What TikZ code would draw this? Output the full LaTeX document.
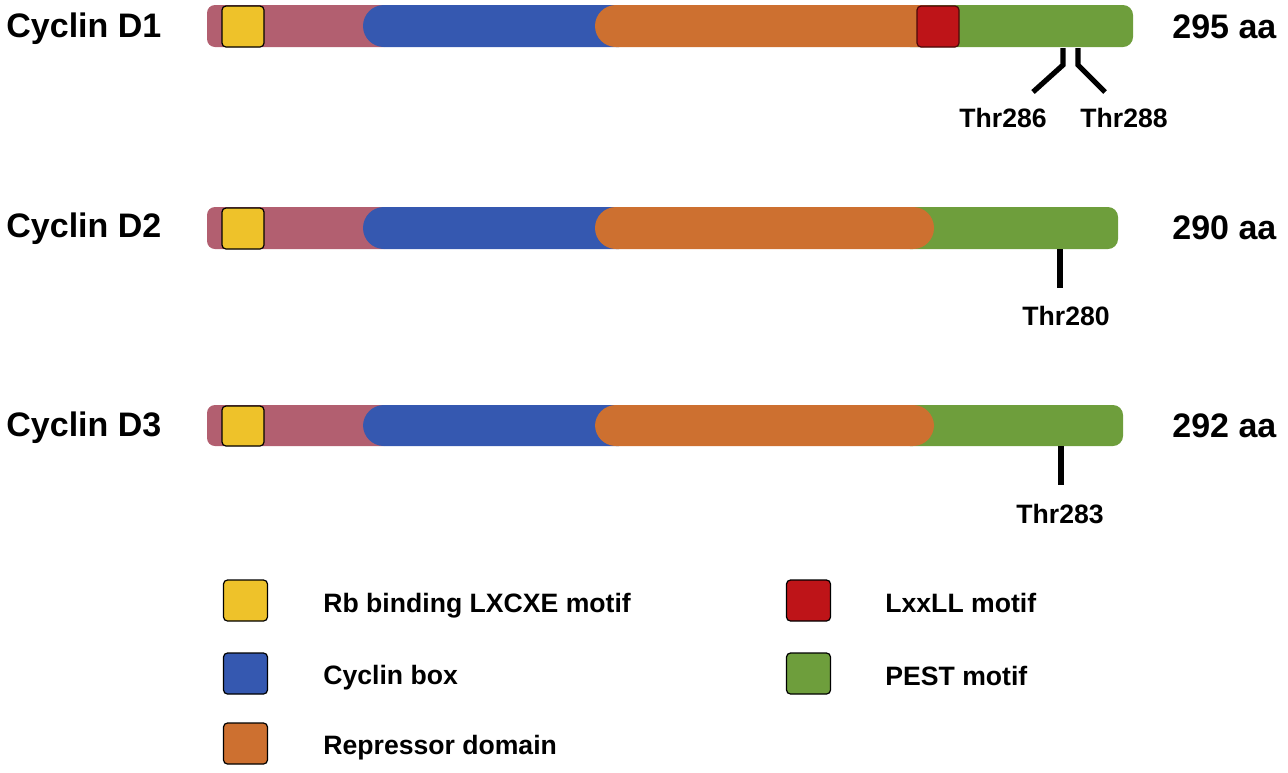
\documentclass[tikz,border=0pt]{standalone}
\usepackage{fontspec}
\setmainfont{Liberation Sans}
\usetikzlibrary{positioning}
\definecolor{cpink}{RGB}{178,95,112}
\definecolor{cyellow}{RGB}{238,194,42}
\definecolor{cblue}{RGB}{53,88,176}
\definecolor{corange}{RGB}{205,112,48}
\definecolor{cred}{RGB}{190,20,24}
\definecolor{cgreen}{RGB}{110,158,60}

\tikzset{
  protname/.style={font=\fontsize{17}{20}\selectfont\bfseries, anchor=base west, inner sep=0pt},
  protlen/.style={font=\fontsize{17}{20}\selectfont\bfseries, anchor=base west, inner sep=0pt},
  sitelabel/.style={font=\fontsize{13.3}{16}\selectfont\bfseries, anchor=base, inner sep=0pt},
  legtext/.style={font=\fontsize{13.3}{16}\selectfont\bfseries, anchor=base west, inner sep=0pt},
  sitetick/.style={line width=2.6pt},
  motif/.style={draw=black, line width=0.6pt, rounded corners=2pt},
  legbox/.style={draw=black, line width=0.6pt, rounded corners=2pt, minimum width=22pt, minimum height=20.5pt, inner sep=0pt}
}

\begin{document}
\begin{tikzpicture}[x=0.5pt,y=-0.5pt]
    \useasboundingbox (0,0) rectangle (1288,772);

    % Cyclin D1
    \node[protname] (d1) at (6,37) {Cyclin D1};
    \fill[cpink, rounded corners=4pt] (207,5) rectangle (392,47);
    \fill[cgreen, rounded corners=5pt] (900,5) rectangle (1133,47);
    \fill[cblue, rounded corners=10.5pt] (363,5) rectangle (640,47);
    \fill[corange, rounded corners=10.5pt] (595,5) rectangle (945,47);
    \draw[motif, fill=cyellow] (222,6) rectangle (264,47); % LXCXE
    \draw[motif, fill=cred, draw=black!60!cred] (917,6) rectangle (959,47); % LxxLL
    \node[protlen] (len1) at (1172,38) {295 aa};
    % Thr286 / Thr288
    \coordinate (p286) at (1063,48);
    \coordinate (p288) at (1078,48);
    \draw[sitetick] (p286) -- ++(0,17) -- ++(-30,27);
    \draw[sitetick] (p288) -- ++(0,17) -- ++(27,27);
    \node[sitelabel] (t286) at (1003,127) {Thr286};
    \node[sitelabel] (t288) at (1124,127) {Thr288};

    % Cyclin D2
    \node[protname] (d2) at (6,237) {Cyclin D2};
    \fill[cpink, rounded corners=4pt] (207,207) rectangle (392,249);
    \fill[cgreen, rounded corners=5pt] (900,207) rectangle (1118,249);
    \fill[cblue, rounded corners=10.5pt] (363,207) rectangle (640,249);
    \fill[corange, rounded corners=10.5pt] (595,207) rectangle (934,249);
    \draw[motif, fill=cyellow] (222,208) rectangle (264,249); % LXCXE
    \node[protlen] (len2) at (1172,239) {290 aa};
    % Thr280
    \coordinate (p280) at (1060,249);
    \draw[sitetick] (p280) -- ++(0,39);
    \node[sitelabel] (t280) at (1066,325) {Thr280};

    % Cyclin D3
    \node[protname] (d3) at (6,436) {Cyclin D3};
    \fill[cpink, rounded corners=4pt] (207,405) rectangle (392,446);
    \fill[cgreen, rounded corners=5pt] (900,405) rectangle (1123,446);
    \fill[cblue, rounded corners=10.5pt] (363,405) rectangle (640,446);
    \fill[corange, rounded corners=10.5pt] (595,405) rectangle (934,446);
    \draw[motif, fill=cyellow] (222,406) rectangle (264,446); % LXCXE
    \node[protlen] (len3) at (1172,437) {292 aa};
    % Thr283
    \coordinate (p283) at (1061,446);
    \draw[sitetick] (p283) -- ++(0,39);
    \node[sitelabel] (t283) at (1060,523) {Thr283};

    % legende links
    \node[legbox, fill=cyellow] (kyellow) at (245.5,600.5) {};
    \node[legtext] (lyellow) at (323,612) {Rb binding LXCXE motif};
    \node[legbox, fill=cblue] (kblue) at (245.5,673.5) {};
    \node[legtext] (lblue) at (323,684) {Cyclin box};
    \node[legbox, fill=corange] (korange) at (245.5,743.5) {};
    \node[legtext] (lorange) at (323,754) {Repressor domain};

    % legende rechts
    \node[legbox, fill=cred] (kred) at (808.5,600.5) {};
    \node[legtext] (lred) at (885,612) {LxxLL motif};
    \node[legbox, fill=cgreen] (kgreen) at (808.5,673.5) {};
    \node[legtext] (lgreen) at (885,685) {PEST motif};
\end{tikzpicture}
\end{document}
